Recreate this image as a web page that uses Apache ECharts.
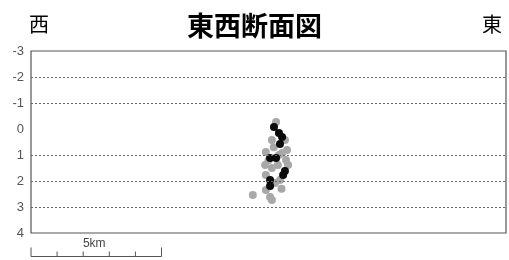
<!DOCTYPE html>
<html><head><meta charset="utf-8">
<script src="https://cdn.jsdelivr.net/npm/echarts@6/dist/echarts.min.js"></script>
<style>html,body{margin:0;padding:0;background:#fff}#c{width:509px;height:260px}</style>
</head><body><div id="c"></div>
<script>
// Depth tick labels (km), axis inverted
const depthTicks = [-3, -2, -1, 0, 1, 2, 3, 4];
const dottedLines = [-2, -1, 1, 2, 3];
// Horizontal distance (km from west edge), depth (km)
const grayX = [9.39, 9.23, 9.73, 9.81, 9.62, 9.77, 9.0, 8.97, 9.46, 9.23, 9.0, 9.54, 9.35, 9.0, 9.16, 9.23, 8.5, 9.85, 9.5, 9.3, 9.1, 9.6];
const grayY = [-0.27, 0.42, 0.42, 0.81, 0.92, 1.19, 0.88, 1.38, 1.38, 1.5, 1.77, 1.96, 2.08, 2.35, 2.62, 2.73, 2.54, 1.38, 1.0, 0.7, 1.2, 2.3];
const blackX = [9.31, 9.5, 9.62, 9.54, 9.16, 9.39, 9.73, 9.66, 9.16, 9.16];
const blackY = [-0.08, 0.15, 0.31, 0.58, 1.12, 1.12, 1.62, 1.77, 1.96, 2.19];
const scaleKm = 5;
const scaleLabel = '5km';

const chart = echarts.init(document.getElementById('c'));
const zip = (a, b) => a.map((v, i) => [v, b[i]]);
chart.setOption({
  animation: false,
  title: [
    {text: '東西断面図', left: 'center', top: 7, textStyle: {fontFamily: 'Noto Sans CJK JP', fontSize: 27, fontWeight: 'bold', color: '#000'}},
    {text: '西', left: 24, top: 9, textStyle: {fontFamily: 'Noto Sans CJK JP', fontSize: 20, fontWeight: 'normal', color: '#000'}},
    {text: '東', right: 2, top: 9, textStyle: {fontFamily: 'Noto Sans CJK JP', fontSize: 20, fontWeight: 'normal', color: '#000'}}
  ],
  grid: {left: 31, right: 3, top: 51, bottom: 27, show: true, borderColor: '#555', borderWidth: 1.2, backgroundColor: '#fff'},
  xAxis: {type: 'value', min: 0, max: 18.2, show: false},
  yAxis: {type: 'value', inverse: true, min: depthTicks[0], max: depthTicks[depthTicks.length-1], interval: 1,
    axisLine: {show: false}, axisTick: {show: false}, splitLine: {show: false},
    axisLabel: {color: '#555', fontSize: 13, fontFamily: 'Liberation Sans', margin: 7}},
  series: [
    {type: 'scatter', data: zip(grayX, grayY), symbolSize: 8, itemStyle: {color: '#a8a8a8', opacity: 1}, z: 3,
     markLine: {silent: true, symbol: 'none', label: {show: false},
       lineStyle: {color: '#666', type: [2, 2], width: 1},
       data: dottedLines.map(v => ({yAxis: v}))}},
    {type: 'scatter', data: zip(blackX, blackY), symbolSize: 8, itemStyle: {color: '#0a0a0a', opacity: 1}, z: 4}
  ]
});
// Scale bar below the plot
const x0 = chart.convertToPixel({gridIndex: 0}, [0, 4]);
const x1 = chart.convertToPixel({gridIndex: 0}, [scaleKm, 4]);
const yb = 256.5;
const els = [{type: 'line', shape: {x1: x0[0], y1: yb, x2: x1[0], y2: yb}, style: {stroke: '#555', lineWidth: 1}}];
for (let k = 0; k <= scaleKm; k++) {
  const p = chart.convertToPixel({gridIndex: 0}, [k, 4]);
  const h = (k === 0 || k === scaleKm) ? 9 : 5;
  els.push({type: 'line', shape: {x1: p[0], y1: yb - h, x2: p[0], y2: yb}, style: {stroke: '#555', lineWidth: 1}});
}
els.push({type: 'text', x: (x0[0] + x1[0]) / 2 - 2, y: yb - 19, style: {text: scaleLabel, fill: '#444', font: '12px "Liberation Sans"', textAlign: 'center'}});
chart.setOption({graphic: els});
</script></body></html>
